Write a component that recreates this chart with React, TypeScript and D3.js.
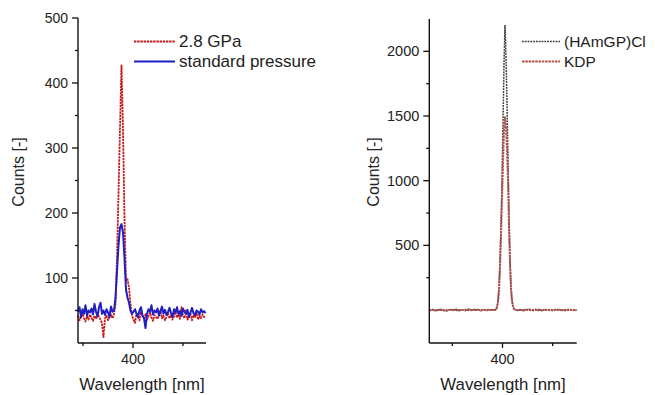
import React from "react";
import * as d3 from "d3";

// left panel: spectra sampled every 0.3 nm starting at 389.0 nm
const leftStart = 389.0;
const leftStep = 0.3;
const highPressure = [
  42, 35, 40, 45, 38, 33, 41, 36, 44, 39, 34, 42, 37, 45, 40, 36, 30, 9, 38, 42, 35, 40, 44, 38,
  45, 60, 130, 230, 330, 427, 330, 190, 95, 98, 85, 60, 42,
  36, 31, 45, 40, 35, 48, 42, 38, 44, 36, 41, 47, 39, 34, 43, 40, 37, 45, 50, 38, 42, 35, 40, 46,
  38, 43, 36, 41, 48, 39, 44, 37, 55, 42, 38, 50, 36, 41, 45, 35, 43, 39, 47, 36, 42, 38, 44, 40, 42,
];
const standardPressure = [
  48, 55, 40, 52, 45, 58, 42, 50, 47, 53, 44, 60, 48, 41, 55, 62, 45, 50, 43, 52, 47, 40, 56, 48,
  50, 70, 110, 150, 178, 183, 170, 130, 82, 70, 62, 50, 45,
  48, 52, 45, 40, 50, 55, 42, 38, 23, 45, 52, 48, 58, 44, 50, 47, 53, 42, 49, 56, 45, 51, 43, 48,
  54, 46, 40, 52, 47, 55, 44, 49, 42, 53, 48, 45, 51, 40, 47, 54, 46, 43, 50, 48, 44, 52, 47, 49, 46,
];
const leftYTicks = [100, 200, 300, 400, 500];
const leftYMinor = [50, 150, 250, 350, 450];

// right panel
const rightWavelength = [
  385.4, 386.0, 386.6, 387.2, 387.8, 388.4, 389.0, 389.6, 390.2, 390.8, 391.4, 392.0, 392.6, 393.2,
  393.8, 394.4, 395.0, 395.6, 396.2, 396.8, 397.4, 398.0,
  398.5, 398.7, 398.9, 399.1, 399.3, 399.5, 399.7, 399.9, 400.1, 400.3, 400.5, 400.7, 400.9, 401.1,
  401.3, 401.5, 401.7, 401.9, 402.1, 402.3, 402.5,
  403.0, 403.6, 404.2, 404.8, 405.4, 406.0, 406.6, 407.2, 407.8, 408.4, 409.0, 409.6, 410.2, 410.8,
  411.4, 412.0, 412.6, 413.2, 413.8, 414.4, 414.8,
];
const hamgp = [
  -1, 4, -3, 2, 0, -5, 3, -2, 5, -4, 2, -1, 4, -3, 1, 5, -2, 0, 3, -4, 1, 2,
  0, 4, 22, 70, 170, 380, 650, 1000, 1450, 1900, 2200, 1950, 1600, 1150, 720, 390, 175, 75, 28, 9, 2,
  1, -3, 2, 4, -2, 0, 5, -4, 1, 3, -1, -5, 2, 0, 4, -3, 1, -2, 3, 0, -1,
];
const kdp = [
  -3, 2, -5, 0, 4, -2, -6, 3, -1, 5, -4, 1, -3, 6, -2, 0, 4, -5, 2, -1, 3, 0,
  2, 5, 20, 60, 150, 330, 560, 850, 1150, 1400, 1490, 1420, 1250, 1000, 650, 350, 160, 70, 25, 8, 3,
  -2, 3, -4, 1, 5, -3, 0, 4, -5, 2, -1, 3, -4, 6, -2, 1, -3, 4, 0, -2, 1,
];
const rightYTicks = [500, 1000, 1500, 2000];
const rightYMinor = [250, 750, 1250, 1750];

const xTicks = [390, 400, 410];
const xLabelled = [400];

const font = "'Liberation Sans', Arial, sans-serif";

type Series = { values: number[]; xs: number[]; color: string; width: number; dash?: string };

function Panel(props: {
  x0: number; x1: number; y0: number; y1: number;
  xDomain: [number, number]; yDomain: [number, number];
  yTicks: number[]; yMinor: number[]; yFont: number;
  series: Series[];
}) {
  const { x0, x1, y0, y1, xDomain, yDomain, yTicks, yMinor, yFont, series } = props;
  const x = d3.scaleLinear().domain(xDomain).range([x0, x1]);
  const y = d3.scaleLinear().domain(yDomain).range([y1, y0]);
  return (
    <g>
      {series.map((s, k) => {
        const line = d3
          .line<number>()
          .x((_, i) => x(s.xs[i]))
          .y((d) => y(d));
        return (
          <path key={k} d={line(s.values) || ""} fill="none" stroke={s.color}
            strokeWidth={s.width} strokeDasharray={s.dash} strokeLinejoin="round" />
        );
      })}
      <line x1={x0} x2={x0} y1={y0} y2={y1} stroke="#111" strokeWidth={1.4} />
      <line x1={x0} x2={x1} y1={y1} y2={y1} stroke="#111" strokeWidth={1.4} />
      {yTicks.map((t) => (
        <g key={t}>
          <line x1={x0 - 6} x2={x0} y1={y(t)} y2={y(t)} stroke="#111" strokeWidth={1.3} />
          <text x={x0 - 10} y={y(t)} textAnchor="end" dominantBaseline="central"
            fontSize={yFont} fontFamily={font} fill="#222">{t}</text>
        </g>
      ))}
      {yMinor.map((t) => (
        <line key={t} x1={x0 - 3} x2={x0} y1={y(t)} y2={y(t)} stroke="#111" strokeWidth={1.3} />
      ))}
      {xTicks.map((t) => (
        <g key={t}>
          <line x1={x(t)} x2={x(t)} y1={y1} y2={y1 + (xLabelled.includes(t) ? 5 : 3)}
            stroke="#111" strokeWidth={1.3} />
          {xLabelled.includes(t) && (
            <text x={x(t)} y={y1 + 21} textAnchor="middle" fontSize={14.5}
              fontFamily={font} fill="#222">{t}</text>
          )}
        </g>
      ))}
      <text x={(x0 + x1) / 2} y={390} textAnchor="middle" fontSize={16.8}
        fontFamily={font} fill="#222">Wavelength [nm]</text>
    </g>
  );
}

function Legend(props: {
  x: number; y: number; len: number; size: number;
  items: { label: string; color: string; width: number; dash?: string }[];
}) {
  const { x, y, items, len, size } = props;
  return (
    <g>
      {items.map((it, i) => (
        <g key={it.label} transform={`translate(${x},${y + i * 20})`}>
          <line x1={0} x2={len} y1={0} y2={0} stroke={it.color} strokeWidth={it.width} strokeDasharray={it.dash} />
          <text x={len + 4} y={0} dominantBaseline="central" fontSize={size}
            fontFamily={font} fill="#222">{it.label}</text>
        </g>
      ))}
    </g>
  );
}

export default function App() {
  const leftX = highPressure.map((_, i) => leftStart + i * leftStep);
  const red = { color: "#c8181c", width: 1.8, dash: "2.4 0.8" };
  const blue = { color: "#1f1fc4", width: 2 };
  const grey = { color: "#383838", width: 1.5, dash: "1.8 1" };
  const brown = { color: "#b0504a", width: 2, dash: "2.5 0.8" };
  return (
    <div style={{ position: "absolute", left: 0, top: 0 }}>
      <svg width={655} height={395} style={{ display: "block", background: "#fff" }}>
        <Panel x0={78} x1={206} y0={18} y1={343} xDomain={[389, 414.6]} yDomain={[0, 500]}
          yTicks={leftYTicks} yMinor={leftYMinor} yFont={14}
          series={[
            { values: highPressure, xs: leftX, ...red },
            { values: standardPressure, xs: leftX, ...blue },
          ]} />
        <Panel x0={429.3} x1={576.7} y0={19} y1={343} xDomain={[385.4, 414.8]} yDomain={[-255, 2250]}
          yTicks={rightYTicks} yMinor={rightYMinor} yFont={14.5}
          series={[
            { values: hamgp, xs: rightWavelength, ...grey },
            { values: kdp, xs: rightWavelength, ...brown },
          ]} />
        <text transform="translate(24,172) rotate(-90)" textAnchor="middle" fontSize={16}
          fontFamily={font} fill="#222">Counts [-]</text>
        <text transform="translate(379,172) rotate(-90)" textAnchor="middle" fontSize={16}
          fontFamily={font} fill="#222">Counts [-]</text>
        <Legend x={134} y={41.5} len={41} size={17}
          items={[{ label: "2.8 GPa", ...red }, { label: "standard pressure", ...blue }]} />
        <Legend x={522} y={41.5} len={38} size={15.5}
          items={[{ label: "(HAmGP)Cl", ...grey }, { label: "KDP", ...brown }]} />
      </svg>
    </div>
  );
}
